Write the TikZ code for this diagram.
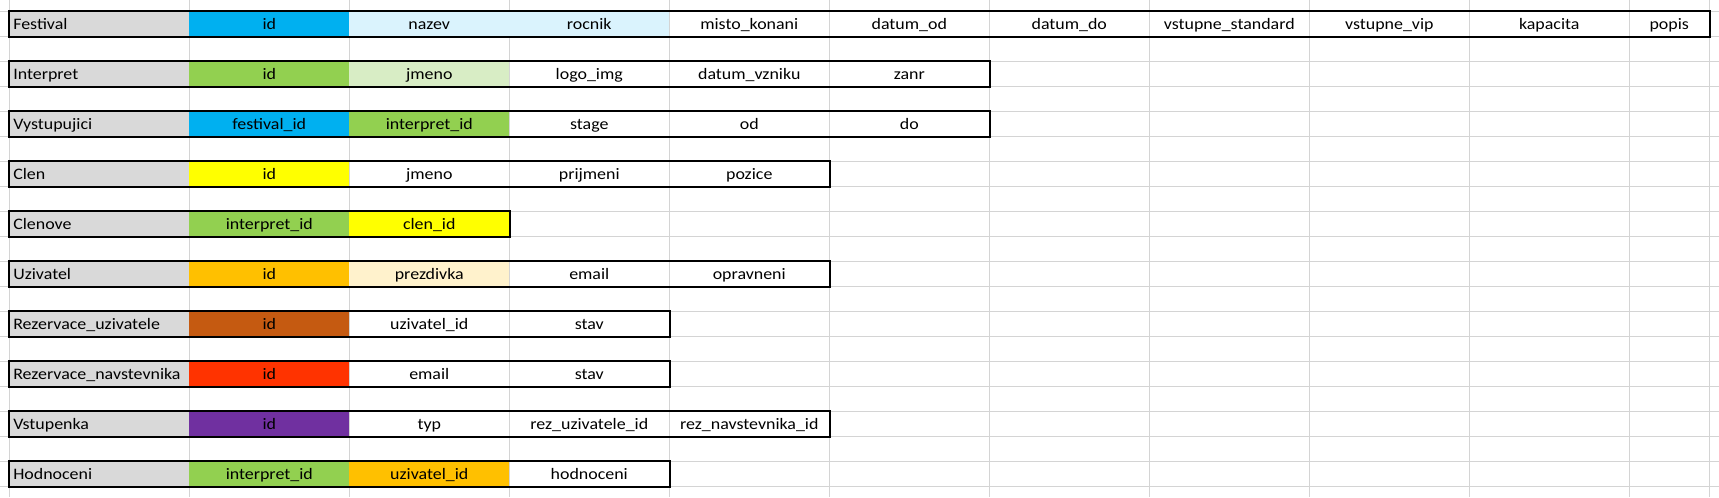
\documentclass[tikz,border=0pt]{standalone}
\usepackage{fontspec}
\setmainfont{Carlito}[FakeStretch=1.12]
\definecolor{gridc}{HTML}{D4D4D4}
\definecolor{labgray}{HTML}{D9D9D9}
\definecolor{cblue}{HTML}{00B0F0}
\definecolor{clblue}{HTML}{DAF3FD}
\definecolor{cgreen}{HTML}{92D050}
\definecolor{clgreen}{HTML}{D8EDC5}
\definecolor{cyellow}{HTML}{FFFF00}
\definecolor{corange}{HTML}{FFC000}
\definecolor{clorange}{HTML}{FFF2CC}
\definecolor{cbrown}{HTML}{C55A11}
\definecolor{cred}{HTML}{FF3300}
\definecolor{cpurple}{HTML}{7030A0}
\begin{document}
\begin{tikzpicture}[x=0.75pt,y=-0.75pt,
  gridline/.style={draw=gridc,line width=0.75pt},
  tblborder/.style={draw=black,line width=1.5pt},
  cellbox/.style={anchor=north west,inner sep=0pt,minimum width=120pt,minimum height=18.75pt,
    text height=8.7pt,text depth=0pt,font=\fontsize{12}{14}\selectfont},
  labbox/.style={cellbox,fill=labgray,minimum width=135.375pt,text width=128.6pt,inner xsep=3.4pt,align=left},
  narrowbox/.style={cellbox,minimum width=60pt}]
\fill[white] (0,0) rectangle (1719,497);
\useasboundingbox (0,0) rectangle (1719,497);
% grid
\foreach \x in {9,189,349,509,669,829,989,1149,1309,1469,1629,1709}
  \draw[gridline] (\x,0) -- (\x,497);
\foreach \k in {0,...,19}
  \draw[gridline] (0,{11+25*\k}) -- (1719,{11+25*\k});
% Festival
\node[labbox] (f0) at (8.5,11) {Festival};
\node[cellbox,fill=cblue] (f1) at (189,11) {id};
\node[cellbox,fill=clblue] (f2) at (349,11) {nazev};
\node[cellbox,fill=clblue] (f3) at (509,11) {rocnik};
\node[cellbox] (f4) at (669,11) {misto\_konani};
\node[cellbox] (f5) at (829,11) {datum\_od};
\node[cellbox] (f6) at (989,11) {datum\_do};
\node[cellbox] (f7) at (1149,11) {vstupne\_standard};
\node[cellbox] (f8) at (1309,11) {vstupne\_vip};
\node[cellbox] (f9) at (1469,11) {kapacita};
\node[narrowbox] (f10) at (1629,11) {popis};
\draw[tblborder] (f0.north west) rectangle (f10.south east);
% Interpret
\node[labbox] (i0) at (8.5,61) {Interpret};
\node[cellbox,fill=cgreen] (i1) at (189,61) {id};
\node[cellbox,fill=clgreen] (i2) at (349,61) {jmeno};
\node[cellbox] (i3) at (509,61) {logo\_img};
\node[cellbox] (i4) at (669,61) {datum\_vzniku};
\node[cellbox] (i5) at (829,61) {zanr};
\draw[tblborder] (i0.north west) rectangle (i5.south east);
% Vystupujici
\node[labbox] (v0) at (8.5,111) {Vystupujici};
\node[cellbox,fill=cblue] (v1) at (189,111) {festival\_id};
\node[cellbox,fill=cgreen] (v2) at (349,111) {interpret\_id};
\node[cellbox] (v3) at (509,111) {stage};
\node[cellbox] (v4) at (669,111) {od};
\node[cellbox] (v5) at (829,111) {do};
\draw[tblborder] (v0.north west) rectangle (v5.south east);
% Clen
\node[labbox] (c0) at (8.5,161) {Clen};
\node[cellbox,fill=cyellow] (c1) at (189,161) {id};
\node[cellbox] (c2) at (349,161) {jmeno};
\node[cellbox] (c3) at (509,161) {prijmeni};
\node[cellbox] (c4) at (669,161) {pozice};
\draw[tblborder] (c0.north west) rectangle (c4.south east);
% Clenove
\node[labbox] (cl0) at (8.5,211) {Clenove};
\node[cellbox,fill=cgreen] (cl1) at (189,211) {interpret\_id};
\node[cellbox,fill=cyellow] (cl2) at (349,211) {clen\_id};
\draw[tblborder] (cl0.north west) rectangle (cl2.south east);
% Uzivatel
\node[labbox] (u0) at (8.5,261) {Uzivatel};
\node[cellbox,fill=corange] (u1) at (189,261) {id};
\node[cellbox,fill=clorange] (u2) at (349,261) {prezdivka};
\node[cellbox] (u3) at (509,261) {email};
\node[cellbox] (u4) at (669,261) {opravneni};
\draw[tblborder] (u0.north west) rectangle (u4.south east);
% Rezervace_uzivatele
\node[labbox] (ru0) at (8.5,311) {Rezervace\_uzivatele};
\node[cellbox,fill=cbrown] (ru1) at (189,311) {id};
\node[cellbox] (ru2) at (349,311) {uzivatel\_id};
\node[cellbox] (ru3) at (509,311) {stav};
\draw[tblborder] (ru0.north west) rectangle (ru3.south east);
% Rezervace_navstevnika
\node[labbox] (rn0) at (8.5,361) {Rezervace\_navstevnika};
\node[cellbox,fill=cred] (rn1) at (189,361) {id};
\node[cellbox] (rn2) at (349,361) {email};
\node[cellbox] (rn3) at (509,361) {stav};
\draw[tblborder] (rn0.north west) rectangle (rn3.south east);
% Vstupenka
\node[labbox] (vs0) at (8.5,411) {Vstupenka};
\node[cellbox,fill=cpurple] (vs1) at (189,411) {id};
\node[cellbox] (vs2) at (349,411) {typ};
\node[cellbox] (vs3) at (509,411) {rez\_uzivatele\_id};
\node[cellbox] (vs4) at (669,411) {rez\_navstevnika\_id};
\draw[tblborder] (vs0.north west) rectangle (vs4.south east);
% Hodnoceni
\node[labbox] (h0) at (8.5,461) {Hodnoceni};
\node[cellbox,fill=cgreen] (h1) at (189,461) {interpret\_id};
\node[cellbox,fill=corange] (h2) at (349,461) {uzivatel\_id};
\node[cellbox] (h3) at (509,461) {hodnoceni};
\draw[tblborder] (h0.north west) rectangle (h3.south east);
\end{tikzpicture}
\end{document}
